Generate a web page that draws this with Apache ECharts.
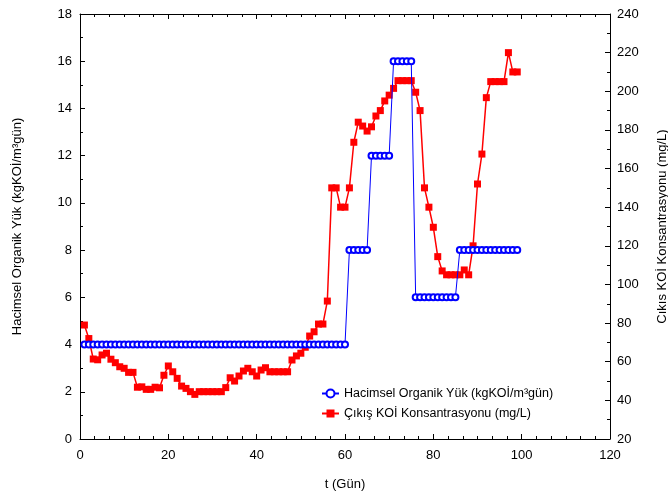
<!DOCTYPE html>
<html>
<head>
<meta charset="utf-8">
<script src="https://cdn.jsdelivr.net/npm/echarts@6/dist/echarts.min.js"></script>
<style>
  html, body { margin: 0; padding: 0; background: #fff; }
  #chart { width: 668px; height: 497px; }
</style>
</head>
<body>
<div id="chart"></div>
<script>
// gün (t)
const days = [
  1, 2, 3, 4, 5, 6, 7, 8, 9, 10, 11, 12, 13, 14, 15, 16, 17, 18, 19, 20,
  21, 22, 23, 24, 25, 26, 27, 28, 29, 30, 31, 32, 33, 34, 35, 36, 37, 38, 39, 40,
  41, 42, 43, 44, 45, 46, 47, 48, 49, 50, 51, 52, 53, 54, 55, 56, 57, 58, 59, 60,
  61, 62, 63, 64, 65, 66, 67, 68, 69, 70, 71, 72, 73, 74, 75, 76, 77, 78, 79, 80,
  81, 82, 83, 84, 85, 86, 87, 88, 89, 90, 91, 92, 93, 94, 95, 96, 97, 98, 99
];

// Hacimsel organik yük (kgKOİ/m3gün)
const organikYuk = [
  4, 4, 4, 4, 4, 4, 4, 4, 4, 4, 4, 4, 4, 4, 4, 4, 4, 4, 4, 4,
  4, 4, 4, 4, 4, 4, 4, 4, 4, 4, 4, 4, 4, 4, 4, 4, 4, 4, 4, 4,
  4, 4, 4, 4, 4, 4, 4, 4, 4, 4, 4, 4, 4, 4, 4, 4, 4, 4, 4, 4,
  8, 8, 8, 8, 8, 12, 12, 12, 12, 12, 16, 16, 16, 16, 16, 6, 6, 6, 6, 6,
  6, 6, 6, 6, 6, 8, 8, 8, 8, 8, 8, 8, 8, 8, 8, 8, 8, 8, 8
];

// Çıkış KOİ konsantrasyonu (mg/L)
const cikisKoi = [
  79, 72, 61.4, 61, 63.5, 64.4, 61.3, 59.5, 57.4, 56.6,
  54.5, 54.5, 46.8, 47, 45.7, 45.7, 46.8, 46.5, 53, 57.8,
  54.8, 51.4, 47.4, 46.2, 44.5, 43.1, 44.5, 44.5, 44.5, 44.5,
  44.5, 44.5, 46.6, 51.7, 50, 52.6, 55.2, 56.6, 54.8, 52.6,
  55.7, 56.9, 54.8, 54.8, 54.8, 54.8, 54.8, 60.9, 63, 64.4,
  67.5, 73.3, 75.5, 79.5, 79.5, 91.4, 150, 150, 140, 140,
  150, 173.6, 184, 182, 179.4, 181.6, 187.2, 190, 195, 198,
  201.5, 205.5, 205.5, 205.5, 205.5, 199.5, 190, 150, 140, 129.6,
  114.4, 107, 105, 105, 105, 105, 107.5, 105, 120, 152,
  167.5, 196.7, 205, 205, 205, 205, 220, 210, 210
];

const yukName = 'Hacimsel Organik Yük (kgKOİ/m³gün)';
const koiName = 'Çıkış KOİ Konsantrasyonu (mg/L)';

const font = 'Liberation Sans, Arial, sans-serif';
const axisCommon = {
  axisLine: { show: true, onZero: false, lineStyle: { color: '#000', width: 1 } },
  axisTick: { show: true, inside: true, length: 5, lineStyle: { color: '#000' } },
  minorTick: { show: true, length: 3, lineStyle: { color: '#000' } },
  axisLabel: { color: '#000', fontFamily: font, fontSize: 13 },
  splitLine: { show: false },
  nameTextStyle: { color: '#000', fontFamily: font, fontSize: 13 }
};

const chart = echarts.init(document.getElementById('chart'));

chart.setOption({
  backgroundColor: '#fff',
  animation: false,
  grid: { left: 80, right: 58, top: 14, bottom: 58, containLabel: false, outerBoundsMode: 'none' },
  legend: {
    orient: 'vertical',
    left: 316,
    top: 382,
    itemWidth: 17,
    itemHeight: 10,
    itemGap: 7,
    textStyle: { color: '#000', fontFamily: font, fontSize: 12.5 },
    data: [yukName, koiName]
  },
  xAxis: [
    {
      ...axisCommon,
      type: 'value',
      min: 0, max: 120, interval: 20,
      minorTick: { ...axisCommon.minorTick, splitNumber: 6 },
      axisLabel: { ...axisCommon.axisLabel, margin: 10 },
      name: 't (Gün)',
      nameLocation: 'middle',
      nameGap: 39
    },
    {
      ...axisCommon,
      type: 'value',
      position: 'top',
      min: 0, max: 120, interval: 20,
      minorTick: { ...axisCommon.minorTick, splitNumber: 6 },
      axisLabel: { show: false }
    }
  ],
  yAxis: [
    {
      ...axisCommon,
      type: 'value',
      min: 0, max: 18, interval: 2,
      minorTick: { ...axisCommon.minorTick, splitNumber: 2 },
      axisLabel: { ...axisCommon.axisLabel, margin: 8 },
      name: yukName,
      nameLocation: 'middle',
      nameRotate: 90,
      nameGap: 56
    },
    {
      ...axisCommon,
      type: 'value',
      position: 'right',
      min: 20, max: 240, interval: 20,
      minorTick: { ...axisCommon.minorTick, splitNumber: 2 },
      axisLabel: { ...axisCommon.axisLabel, margin: 7 },
      name: 'Cıkıs KOİ Konsantrasyonu (mg/L)',
      nameLocation: 'middle',
      nameRotate: 90,
      nameGap: 46
    }
  ],
  series: [
    {
      name: yukName,
      type: 'line',
      yAxisIndex: 0,
      data: days.map((d, i) => [d, organikYuk[i]]),
      symbol: 'emptyCircle',
      symbolSize: 6,
      showAllSymbol: true,
      color: '#0000ff',
      lineStyle: { color: '#0000ff', width: 1 },
      itemStyle: { color: '#0000ff', borderColor: '#0000ff', borderWidth: 1 },
      z: 3
    },
    {
      name: koiName,
      type: 'line',
      yAxisIndex: 1,
      data: days.map((d, i) => [d, cikisKoi[i]]),
      symbol: 'rect',
      symbolSize: 7,
      showAllSymbol: true,
      color: '#ff0000',
      lineStyle: { color: '#ff0000', width: 1.5 },
      itemStyle: { color: '#ff0000' },
      z: 2
    }
  ]
});
</script>
</body>
</html>
